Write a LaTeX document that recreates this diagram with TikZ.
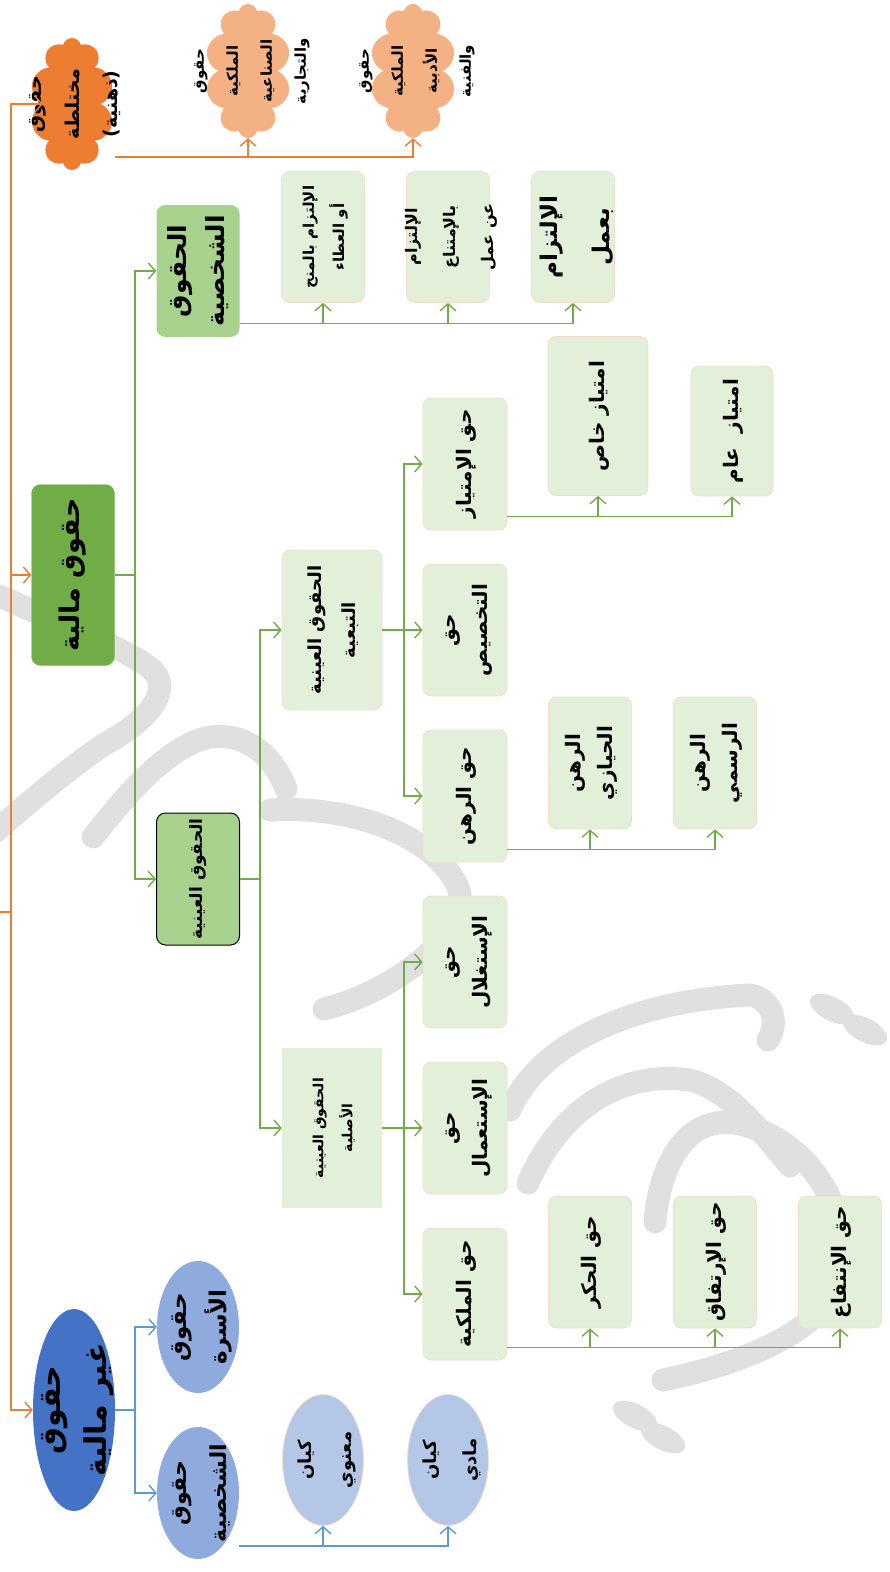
\documentclass[tikz,border=0pt]{standalone}
\usepackage{fontspec}
\usepackage{graphicx}
\usetikzlibrary{shapes.symbols,shapes.geometric,arrows.meta,calc}
\TeXXeTstate=1
\newfontfamily\arfont[Script=Arabic]{DejaVu Sans}
\newcommand\AR[1]{\beginR#1\endR}
\newcommand\RT[1]{\rotatebox{90}{\begin{tabular}{@{}c@{}}#1\end{tabular}}}
\newcommand\FS[2]{\fontsize{#1}{#2}\selectfont}
\definecolor{orn}{HTML}{ED7D31}
\definecolor{lorn}{HTML}{F4B183}
\definecolor{grn}{HTML}{70AD47}
\definecolor{mgrn}{HTML}{A9D18E}
\definecolor{lgrn}{HTML}{E2F0D9}
\definecolor{lpnk}{HTML}{F8DCCB}
\definecolor{blu}{HTML}{5B9BD5}
\definecolor{dblu}{HTML}{4472C4}
\definecolor{mblu}{HTML}{8FAADC}
\definecolor{lblu}{HTML}{B4C7E7}
\definecolor{wmg}{HTML}{E0E0E0}
\tikzset{
  base/.style={inner sep=0pt, font=\arfont\bfseries},
  lb/.style={base, rectangle, rounded corners=8pt, fill=lgrn, draw=lpnk, line width=0.8pt, minimum width=83pt, minimum height=132pt},
  txt/.style={base},
  ol/.style={draw=orn, line width=1.4pt},
  gl/.style={draw=grn, line width=1.4pt},
  bl/.style={draw=blu, line width=1.4pt},
  arr/.style={-{Straight Barb[length=7pt,width=16pt,line width=1.4pt]}},
  wm/.style={draw=wmg, line width=23pt, line cap=round},
  fsmall/.style={font=\arfont\bfseries\FS{20}{32}},
  cl/.style={cloud, cloud puffs=10, cloud ignores aspect, inner sep=0pt},
}
\begin{document}
\begin{tikzpicture}[x=1pt,y=-1pt]
\useasboundingbox (0,0) rectangle (890,1572);
% ---------- watermark ----------
\draw[wm] (0,596) .. controls (50,620) and (120,645) .. (150,668) .. controls (175,688) and (150,720) .. (103,745) .. controls (60,775) and (20,810) .. (-5,832);
\draw[wm] (93,837) .. controls (130,790) and (170,745) .. (210,737) .. controls (250,732) and (275,760) .. (286,789);
\draw[wm] (270,810) .. controls (360,805) and (440,840) .. (459,890) .. controls (470,930) and (400,990) .. (324,1009);
\draw[wm] (510,1110) .. controls (540,1040) and (640,1000) .. (750,995) .. controls (775,1000) and (778,1025) .. (768,1040);
\draw[wm] (528,1183) .. controls (560,1110) and (620,1070) .. (690,1080) .. controls (730,1090) and (760,1130) .. (790,1166);
\draw[wm] (655,1222) .. controls (660,1160) and (690,1110) .. (744,1125) .. controls (800,1140) and (840,1190) .. (844,1255) .. controls (845,1320) and (760,1360) .. (663,1380);
\fill[wmg, rotate around={-27:(832,1009)}] (832,1009) ellipse [x radius=24, y radius=12];
\fill[wmg, rotate around={-27:(865,1030)}] (865,1030) ellipse [x radius=24, y radius=12];
\fill[wmg, rotate around={-27:(635,1416)}] (635,1416) ellipse [x radius=24, y radius=12];
\fill[wmg, rotate around={-27:(663,1438)}] (663,1438) ellipse [x radius=24, y radius=12];
% ---------- orange group ----------
\node[cl, fill=orn, minimum width=84pt, minimum height=132pt] (mix) at (72,104) {};
\node[cl, fill=lorn, minimum width=86pt, minimum height=134pt] (ind) at (248,71) {};
\node[cl, fill=lorn, minimum width=86pt, minimum height=134pt] (adab) at (413,71) {};
\node[txt, font=\arfont\bfseries\FS{19}{38}] (mixT) at (mix.center) {\RT{\AR{حقوق}\\\AR{مختلطة}\\\AR{(ذهنية)}}};
\node[txt, font=\arfont\bfseries\FS{15}{34}] (indT) at (ind.center) {\RT{\AR{حقوق}\\\AR{الملكية}\\\AR{الصناعية}\\\AR{والتجارية}}};
\node[txt, font=\arfont\bfseries\FS{15}{34}] (adabT) at (adab.center) {\RT{\AR{حقوق}\\\AR{الملكية}\\\AR{الأدبية}\\\AR{والفنية}}};
% ---------- green group ----------
\node[base, rectangle, rounded corners=9pt, fill=grn, draw=grn!80!white, minimum width=83pt, minimum height=181pt, font=\arfont\bfseries\FS{27}{30}] (mal) at (73,575) {\RT{\AR{حقوق مالية}}};
\node[base, rectangle, rounded corners=9pt, fill=mgrn, minimum width=83pt, minimum height=132pt, font=\arfont\bfseries\FS{25}{38}] (shakh) at (198,271) {\RT{\AR{الحقوق}\\\AR{الشخصية}}};
\node[lb, minimum height=131pt, font=\arfont\bfseries\FS{15}{30}] (cA) at (323,237) {\RT{\AR{الإلتزام بالمنح}\\\AR{أو العطاء}}};
\node[lb, minimum height=131pt] (cB) at (448,237) {};
\node[txt, font=\arfont\bfseries\FS{16}{38}] (cBT) at (cB.center) {\RT{\AR{الإلتزام}\\\AR{بالإمتناع}\\\AR{عن عمل}}};
\node[lb, minimum height=131pt] (cC) at (573,237) {};
\node[txt, font=\arfont\bfseries\FS{23}{52}] (cCT) at (cC.center) {\RT{\AR{الإلتزام}\\\AR{بعمل}}};
\node[base, rectangle, rounded corners=9pt, fill=mgrn, draw=black, line width=1pt, minimum width=83pt, minimum height=132pt, font=\arfont\bfseries\FS{17}{20}] (ayn) at (198,879) {\RT{\AR{الحقوق العينية}}};
\node[lb, minimum width=100pt, minimum height=160pt, font=\arfont\bfseries\FS{18}{34}] (tab) at (332,630) {\RT{\AR{الحقوق العينية}\\\AR{التبعية}}};
\node[base, rectangle, fill=lgrn, minimum width=100pt, minimum height=160pt, font=\arfont\bfseries\FS{14}{29}] (asl) at (332,1128) {\RT{\AR{الحقوق العينية}\\\AR{الأصلية}}};
\node[lb, minimum width=84pt, fsmall] (imt) at (465,464) {\RT{\AR{حق الإمتياز}}};
\node[lb, minimum width=84pt, fsmall] (takh) at (465,630) {\RT{\AR{حق}\\\AR{التخصيص}}};
\node[lb, minimum width=84pt, fsmall] (rahn) at (465,796) {\RT{\AR{حق الرهن}}};
\node[lb, minimum width=100pt, minimum height=159pt, fsmall] (khas) at (598,416) {\RT{\AR{امتياز خاص}}};
\node[lb, minimum width=82pt, minimum height=130pt, fsmall] (aam) at (732,431) {\RT{\AR{امتياز\ \ عام}}};
\node[lb, fsmall] (hiy) at (590,763) {\RT{\AR{الرهن}\\\AR{الحيازي}}};
\node[lb, fsmall] (rasm) at (715,763) {\RT{\AR{الرهن}\\\AR{الرسمي}}};
\node[lb, minimum width=84pt, fsmall] (istig) at (465,962) {\RT{\AR{حق}\\\AR{الإستغلال}}};
\node[lb, minimum width=84pt, fsmall] (istim) at (465,1128) {\RT{\AR{حق}\\\AR{الإستعمال}}};
\node[lb, minimum width=84pt, fsmall] (milk) at (465,1294) {\RT{\AR{حق الملكية}}};
\node[lb, fsmall] (hikr) at (590,1262) {\RT{\AR{حق الحكر}}};
\node[lb, fsmall] (irt) at (715,1262) {\RT{\AR{حق الإرتفاق}}};
\node[lb, fsmall] (intf) at (840,1262) {\RT{\AR{حق الإنتفاع}}};
% ---------- blue group ----------
\node[ellipse, fill=dblu, minimum width=82pt, minimum height=202pt, inner sep=0pt] (gh) at (74,1410) {};
\node[ellipse, fill=mblu, minimum width=82pt, minimum height=132pt, inner sep=0pt] (usra) at (198,1327) {};
\node[ellipse, fill=mblu, minimum width=82pt, minimum height=132pt, inner sep=0pt] (shk2) at (198,1493) {};
\node[ellipse, fill=lblu, draw=lpnk, line width=0.8pt, minimum width=81pt, minimum height=131pt, inner sep=0pt] (kay1) at (323,1460) {};
\node[ellipse, fill=lblu, draw=lpnk, line width=0.8pt, minimum width=81pt, minimum height=131pt, inner sep=0pt] (kay2) at (448,1460) {};
\node[txt, font=\arfont\bfseries\FS{30}{46}] (ghT) at (gh.center) {\RT{\AR{حقوق}\\\AR{غير مالية}}};
\node[txt, font=\arfont\bfseries\FS{23}{40}] (usraT) at (usra.center) {\RT{\AR{حقوق}\\\AR{الأسرة}}};
\node[txt, font=\arfont\bfseries\FS{22}{40}] (shk2T) at (shk2.center) {\RT{\AR{حقوق}\\\AR{الشخصية}}};
\node[txt, font=\arfont\bfseries\FS{18}{40}] (kay1T) at (kay1.center) {\RT{\AR{كيان}\\\AR{معنوي}}};
\node[txt, font=\arfont\bfseries\FS{18}{40}] (kay2T) at (kay2.center) {\RT{\AR{كيان}\\\AR{مادي}}};
% ---------- connectors ----------
\coordinate (o0) at (0,912);
\coordinate (o1) at (11,912);
\draw[ol] (o0) -- (o1);
\draw[ol,arr] (o1) |- (mix.west);
\draw[ol,arr] (o1) |- (mal.west);
\draw[ol,arr] (o1) |- (gh.west);
\coordinate (m1) at (115,157);
\draw[ol,arr] (m1) -| (adab.south);
\draw[ol,arr] (ind.south |- m1) -- (ind.south);
\coordinate (g1) at (135,575);
\draw[gl] (mal.east) -- (g1);
\draw[gl,arr] (g1) |- (shakh.west);
\draw[gl,arr] (g1) |- (ayn.west);
\coordinate (s1) at ($(shakh.south east)+(0,-14)$);
\draw[gl,arr] (s1) -| (cC.south);
\draw[gl,arr] (cA.south |- s1) -- (cA.south);
\draw[gl,arr] (cB.south |- s1) -- (cB.south);
\coordinate (a1) at (260,879);
\draw[gl] (ayn.east) -- (a1);
\draw[gl,arr] (a1) |- (tab.west);
\draw[gl,arr] (a1) |- (asl.west);
\coordinate (t1) at (404,630);
\draw[gl] (tab.east) -- (t1);
\draw[gl,arr] (t1) |- (imt.west);
\draw[gl,arr] (t1) -- (takh.west);
\draw[gl,arr] (t1) |- (rahn.west);
\coordinate (i1) at ($(imt.south east)+(0,-14)$);
\draw[gl,arr] (i1) -| (aam.south);
\draw[gl,arr] (khas.south |- i1) -- (khas.south);
\coordinate (r1) at ($(rahn.south east)+(0,-13)$);
\draw[gl,arr] (r1) -| (rasm.south);
\draw[gl,arr] (hiy.south |- r1) -- (hiy.south);
\coordinate (p1) at (404,1128);
\draw[gl] (asl.east) -- (p1);
\draw[gl,arr] (p1) |- (istig.west);
\draw[gl,arr] (p1) -- (istim.west);
\draw[gl,arr] (p1) |- (milk.west);
\coordinate (k0) at ($(milk.south east)+(0,-13)$);
\draw[gl,arr] (k0) -| (intf.south);
\draw[gl,arr] (hikr.south |- k0) -- (hikr.south);
\draw[gl,arr] (irt.south |- k0) -- (irt.south);
\coordinate (b1) at (135,1410);
\draw[bl] (gh.east) -- (b1);
\draw[bl,arr] (b1) |- (usra.west);
\draw[bl,arr] (b1) |- (shk2.west);
\coordinate (b2) at ($(shk2.east)+(0,53)$);
\draw[bl,arr] (b2) -| (kay2.south);
\draw[bl,arr] (kay1.south |- b2) -- (kay1.south);
\end{tikzpicture}
\end{document}
